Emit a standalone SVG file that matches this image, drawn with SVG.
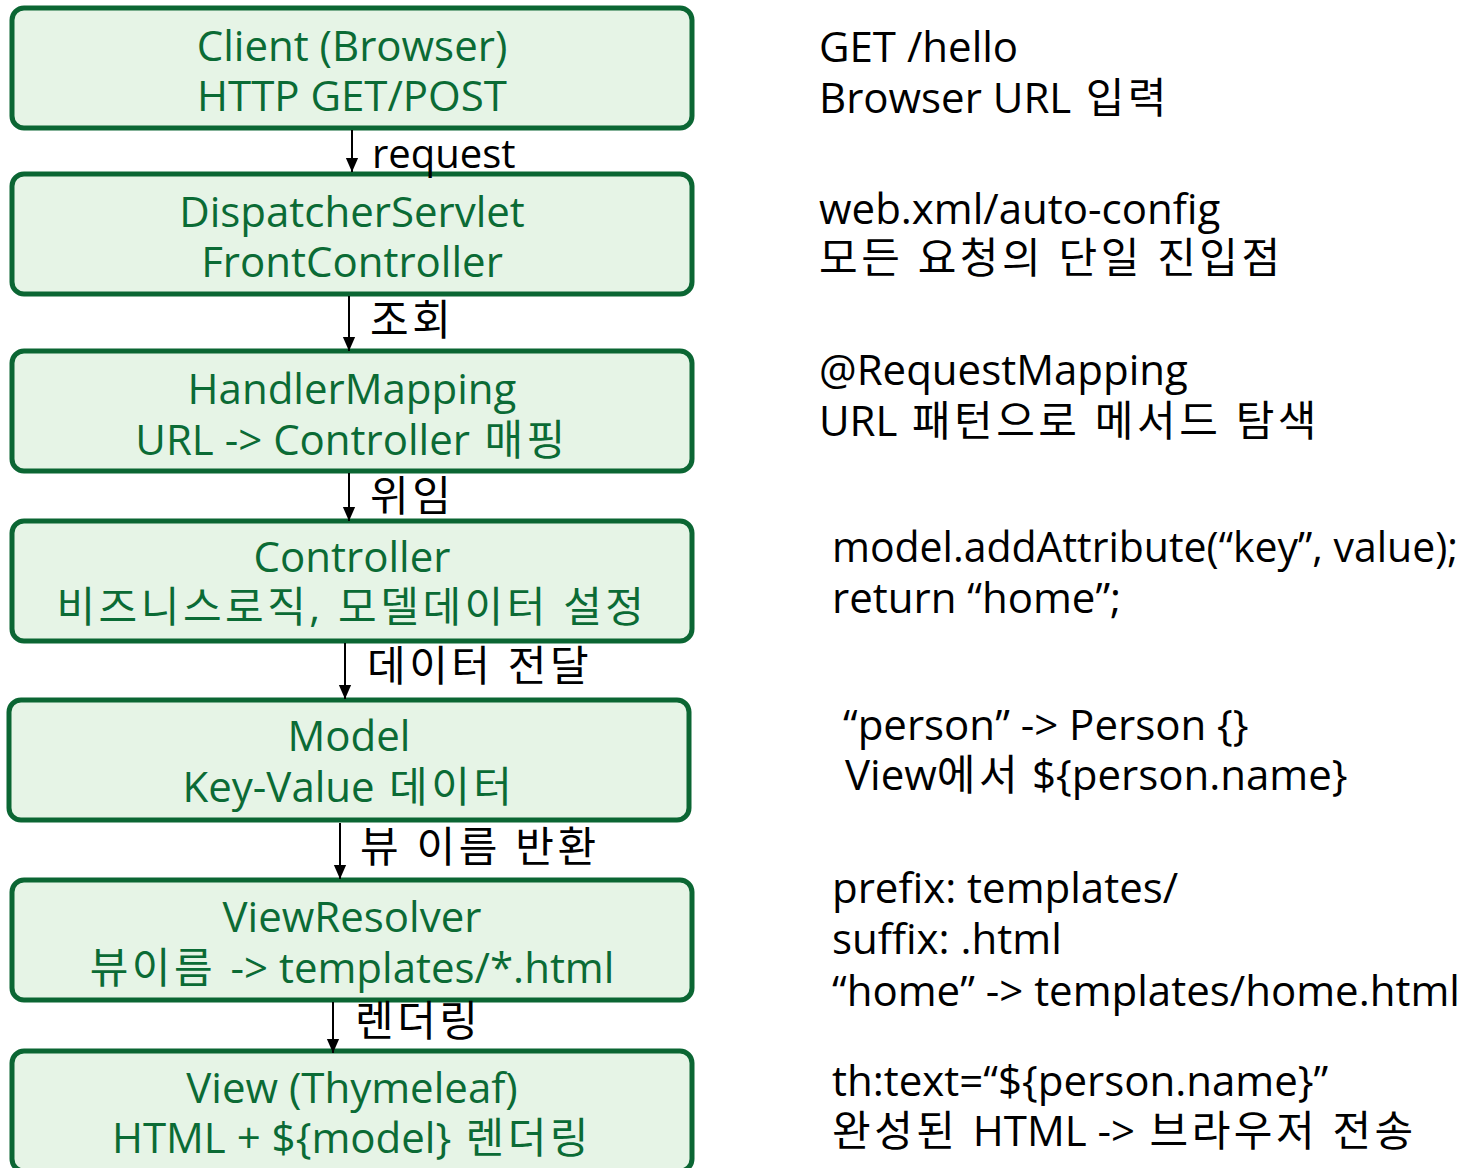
<svg xmlns="http://www.w3.org/2000/svg" width="1468" height="1168" viewBox="0 0 1468 1168">
<style>
.box{fill:#e6f4e6;stroke:#0b6633;stroke-width:5}
.bt{font-family:"Open Sans","Noto Sans CJK KR",sans-serif;font-size:42px;fill:#0b6b35;text-anchor:middle}
.lb{font-family:"Open Sans","Noto Sans CJK KR",sans-serif;font-size:42px;fill:#000}
.side{font-family:"Open Sans","Noto Sans CJK KR",sans-serif;font-size:42px;fill:#000}
.k{letter-spacing:3.5px}
.con{stroke:#000;stroke-width:2;fill:none;marker-end:url(#ah)}
</style>
<defs>
<marker id="ah" markerUnits="userSpaceOnUse" markerWidth="14" markerHeight="16" refX="16" refY="7" orient="auto" viewBox="0 0 16 14">
<path d="M0,0 L16,7 L0,14 z" fill="#000"/>
</marker>
</defs>
<rect width="1468" height="1168" fill="#fff"/>
<g id="client">
<rect class="box" x="12" y="8" width="680" height="120" rx="12"/>
<text class="bt" x="352" y="61">Client (Browser)</text>
<text class="bt" x="352" y="111">HTTP GET/POST</text>
</g>
<g id="dispatcher">
<rect class="box" x="12" y="174" width="680" height="120" rx="12"/>
<text class="bt" x="352" y="227">DispatcherServlet</text>
<text class="bt" x="352" y="277">FrontController</text>
</g>
<g id="handlermapping">
<rect class="box" x="12" y="351" width="680" height="120" rx="12"/>
<text class="bt" x="352" y="404">HandlerMapping</text>
<text class="bt" x="352" y="455">URL -&gt; Controller<tspan class="k"> 매핑</tspan></text>
</g>
<g id="controller">
<rect class="box" x="12" y="521" width="680" height="120" rx="12"/>
<text class="bt" x="352" y="572">Controller</text>
<text class="bt" x="352" y="622"><tspan class="k">비즈니스로직, 모델데이터 설정</tspan></text>
</g>
<g id="model">
<rect class="box" x="9" y="700" width="680" height="120" rx="12"/>
<text class="bt" x="349" y="751">Model</text>
<text class="bt" x="349" y="802">Key-Value<tspan class="k"> 데이터</tspan></text>
</g>
<g id="viewresolver">
<rect class="box" x="12" y="880" width="680" height="120" rx="12"/>
<text class="bt" x="352" y="932">ViewResolver</text>
<text class="bt" x="352" y="983"><tspan class="k">뷰이름 </tspan>-&gt; templates/*.html</text>
</g>
<g id="view">
<rect class="box" x="12" y="1051" width="680" height="120" rx="12"/>
<text class="bt" x="352" y="1103">View (Thymeleaf)</text>
<text class="bt" x="352" y="1153">HTML + ${model}<tspan class="k"> 렌더링</tspan></text>
</g>
<g id="connectors">
<line class="con" x1="352" y1="130" x2="352" y2="172"/>
<line class="con" x1="349" y1="296" x2="349" y2="351"/>
<line class="con" x1="349" y1="473" x2="349" y2="521"/>
<line class="con" x1="345" y1="643" x2="345" y2="699"/>
<line class="con" x1="340" y1="823" x2="340" y2="879"/>
<line class="con" x1="333" y1="1002" x2="333" y2="1053"/>
<text class="lb" x="372" y="168" style="font-size:40px">request</text>
<text class="lb k" x="370" y="335">조회</text>
<text class="lb k" x="370" y="511">위임</text>
<text class="lb k" x="367" y="681">데이터 전달</text>
<text class="lb k" x="360" y="862">뷰 이름 반환</text>
<text class="lb k" x="355" y="1036">렌더링</text>
</g>
<g id="notes">
<text class="side" x="819" y="62">GET /hello</text>
<text class="side" x="819" y="113">Browser URL<tspan class="k"> 입력</tspan></text>
<text class="side" x="819" y="224">web.xml/auto-config</text>
<text class="side k" x="819" y="273">모든 요청의 단일 진입점</text>
<text class="side" x="819" y="385">@RequestMapping</text>
<text class="side" x="819" y="436">URL<tspan class="k"> 패턴으로 메서드 탐색</tspan></text>
<text class="side" x="832" y="562" textLength="626" lengthAdjust="spacingAndGlyphs">model.addAttribute(“key”, value);</text>
<text class="side" x="832" y="613">return “home”;</text>
<text class="side" x="843" y="740">“person” -&gt; Person {}</text>
<text class="side" x="845" y="790">View<tspan class="k">에서</tspan> ${person.name}</text>
<text class="side" x="832" y="903">prefix: templates/</text>
<text class="side" x="832" y="954">suffix: .html</text>
<text class="side" x="832" y="1006">“home” -&gt; templates/home.html</text>
<text class="side" x="832" y="1096">th:text=“${person.name}”</text>
<text class="side" x="832" y="1146"><tspan class="k">완성된 </tspan>HTML -&gt;<tspan class="k"> 브라우저 전송</tspan></text>
</g>
</svg>
